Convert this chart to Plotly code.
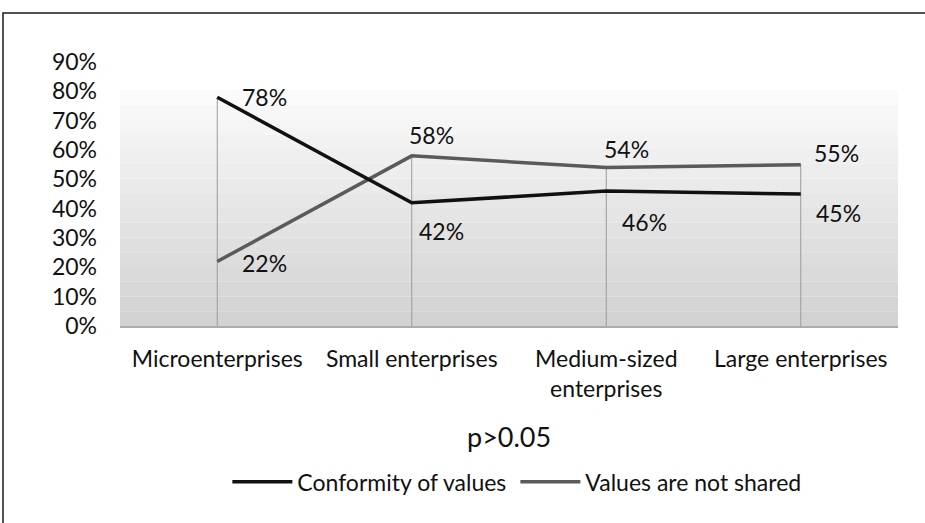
import plotly.graph_objects as go

categories = ["Microenterprises", "Small enterprises", "Medium-sized<br>enterprises", "Large enterprises"]
conformity = [0.78, 0.42, 0.46, 0.45]
not_shared = [0.22, 0.58, 0.54, 0.55]
y_ticks = [0, 0.1, 0.2, 0.3, 0.4, 0.5, 0.6, 0.7, 0.8, 0.9]
y_tick_labels = ["0%", "10%", "20%", "30%", "40%", "50%", "60%", "70%", "80%", "90%"]

# label offsets in pixels (style only)
conf_off = [(47, 0), (30, -28), (38, -31), (38, -19)]
ns_off = [(47, -2), (20, 21), (20, 19), (36, 12)]

FONT = "Lato"
TXT = "#111111"

fig = go.Figure()

# drop lines
dx, dy = [], []
for c, a, b in zip(categories, conformity, not_shared):
    dx += [c, c, None]
    dy += [0, max(a, b), None]
fig.add_trace(go.Scatter(x=dx, y=dy, mode="lines", line=dict(color="#9a9a9a", width=1),
                         showlegend=False, hoverinfo="skip"))

fig.add_trace(go.Scatter(x=categories, y=not_shared, mode="lines", name="Values are not shared",
                         line=dict(color="#5a5a5a", width=3.5)))
fig.add_trace(go.Scatter(x=categories, y=conformity, mode="lines", name="Conformity of values",
                         line=dict(color="#111111", width=3.5)))

annotations = []
for c, v, (ox, oy) in zip(categories, conformity, conf_off):
    annotations.append(dict(x=c, y=v, xref="x", yref="y", text=f"{round(v*100)}%", showarrow=False,
                            xshift=ox, yshift=oy, font=dict(family=FONT, size=23, color=TXT)))
for c, v, (ox, oy) in zip(categories, not_shared, ns_off):
    annotations.append(dict(x=c, y=v, xref="x", yref="y", text=f"{round(v*100)}%", showarrow=False,
                            xshift=ox, yshift=oy, font=dict(family=FONT, size=23, color=TXT)))
annotations.append(dict(x=0.5, y=-0.42, xref="paper", yref="paper", text="p>0.05", showarrow=False,
                        yanchor="middle", font=dict(family=FONT, size=27, color=TXT)))

# gradient background bands
shapes = []
n = 16
top = 0.805
for i in range(n):
    t = i / (n - 1)
    g = int(round(210 + (250 - 210) * t))
    shapes.append(dict(type="rect", xref="paper", yref="y", x0=0, x1=1,
                       y0=top * i / n, y1=top * (i + 1) / n,
                       fillcolor=f"rgb({g},{g},{g})", line=dict(width=0), layer="below"))
# outer border
shapes.append(dict(type="rect", xref="paper", yref="paper", x0=-0.1504, y0=1.1856, x1=2, y1=-3,
                   line=dict(color="#1a1a1a", width=1.5), fillcolor="rgba(0,0,0,0)"))

fig.update_layout(
    width=925, height=523,
    margin=dict(l=120, r=27, t=62, b=197),
    paper_bgcolor="white", plot_bgcolor="white",
    font=dict(family=FONT, size=23, color=TXT),
    shapes=shapes, annotations=annotations,
    legend=dict(orientation="h", x=0.138, y=-0.59, xanchor="left", yanchor="middle",
                traceorder="reversed", font=dict(family=FONT, size=23, color=TXT),
                bgcolor="rgba(0,0,0,0)", itemwidth=60, entrywidth=213),
    xaxis=dict(type="category", range=[-0.5, 3.5], showgrid=False, zeroline=False,
               showline=True, linecolor="#ababab", linewidth=2, ticks="",
               tickfont=dict(family=FONT, size=23, color=TXT), ticklabelstandoff=11),
    yaxis=dict(range=[0, 0.9], tickvals=y_ticks, ticktext=y_tick_labels, showgrid=False,
               zeroline=False, showline=False, ticks="",
               tickfont=dict(family=FONT, size=23, color=TXT), ticklabelstandoff=22),
    showlegend=True,
)

fig.write_html("out.html", config={"displayModeBar": False},
               post_script="document.body.style.margin='0';document.body.style.overflow='hidden';")
